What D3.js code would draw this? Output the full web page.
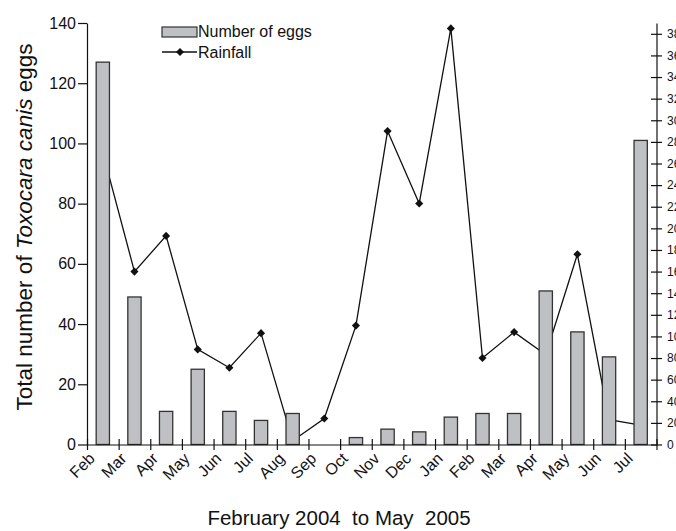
<!DOCTYPE html>
<html lang="en">
<head>
<meta charset="UTF-8">
<script src="https://d3js.org/d3.v7.min.js"></script>
<style>
  body { margin: 0; background: #fff; }
  #plot { position: absolute; left: 0; top: 0; width: 676px; height: 531px; overflow: hidden; }
  text { font-family: "Liberation Sans", Arial, sans-serif; fill: #111; }
</style>
</head>
<body>
<div id="plot"></div>
<script>
// months along the x axis (Feb 2004 .. Jul 2005 as labelled)
const months = ["Feb", "Mar", "Apr", "May", "Jun", "Jul", "Aug", "Sep", "Oct", "Nov", "Dec",
                "Jan", "Feb", "Mar", "Apr", "May", "Jun", "Jul"];
// total number of Toxocara canis eggs (left axis)
const eggs = [127, 49, 11, 25, 11, 8, 10.3, 0, 2.3, 5.1, 4.2, 9.1, 10.3, 10.3, 51, 37.4, 29.1, 101];
// rainfall (right axis)
const rainfall = [270, 160, 193, 88, 71, 103, 3.5, 24, 110, 290, 223, 385, 80, 104, 83, 176, 23, 18];
const leftTicks = d3.range(0, 141, 20);
const rightTicks = d3.range(0, 381, 20);

function drawChart() {
  const width = 676, height = 531;
  const svg = d3.select("#plot").append("svg")
      .attr("width", width)
      .attr("height", height);

  // plot area
  const x0 = 87, x1 = 656.5, yBottom = 444.5, yTop = 23;

  // scales
  const x = d3.scaleBand()
      .domain(d3.range(months.length))
      .range([x0, x1])
      .padding(0);
  const xEdge = d3.scaleLinear().domain([0, months.length]).range([x0, x1]);
  const y = d3.scaleLinear().domain([0, 140]).range([yBottom, yTop]);
  const yR = d3.scaleLinear().domain([0, 390]).range([yBottom, yTop]);
  const mid = i => x(i) + x.bandwidth() / 2;

  // rainfall line (drawn first, bars cover it)
  const line = d3.line()
      .x((d, i) => mid(i))
      .y(d => yR(d));
  svg.append("path")
      .datum(rainfall)
      .attr("fill", "none")
      .attr("stroke", "#111")
      .attr("stroke-width", 1.3)
      .attr("d", line);

  const diamond = d3.symbol().type(d3.symbolDiamond2).size(42);
  svg.append("g").selectAll("path")
      .data(rainfall)
      .join("path")
      .attr("d", diamond)
      .attr("fill", "#111")
      .attr("transform", (d, i) => `translate(${mid(i)},${yR(d)})`);

  // egg bars
  const barW = x.bandwidth() * 0.42;
  const eggRows = eggs.map((v, i) => ({i, v})).filter(d => d.v > 0);
  svg.append("g").selectAll("rect")
      .data(eggRows)
      .join("rect")
      .attr("x", d => mid(d.i) - barW / 2)
      .attr("y", d => y(d.v))
      .attr("width", barW)
      .attr("height", d => yBottom - y(d.v))
      .attr("fill", "#bfc0c4")
      .attr("stroke", "#333")
      .attr("stroke-width", 1.3);

  // left axis
  svg.append("g")
      .attr("transform", `translate(${x0},0)`)
      .call(d3.axisLeft(y).tickValues(leftTicks).tickSize(9).tickSizeOuter(0).tickPadding(2))
      .call(g => g.selectAll("text").style("font-size", "16px").attr("fill", "#111"))
      .call(g => g.selectAll("line, path").attr("stroke", "#111").attr("stroke-width", 1.2));

  // right axis (labels run off the page edge, as in the source figure)
  svg.append("g")
      .attr("transform", `translate(${x1},0)`)
      .call(d3.axisRight(yR).tickValues(rightTicks).tickSize(5.5).tickSizeOuter(0).tickPadding(5))
      .call(g => g.selectAll(".tick line").attr("x1", -5.5).attr("x2", 5.5))
      .call(g => g.selectAll("text").style("font-size", "12px").attr("fill", "#111"))
      .call(g => g.selectAll("line, path").attr("stroke", "#111").attr("stroke-width", 1.2));

  // bottom axis, ticks between months
  svg.append("g")
      .attr("transform", `translate(0,${yBottom})`)
      .call(d3.axisBottom(xEdge).tickValues(d3.range(months.length + 1)).tickFormat("").tickSize(5.5).tickSizeOuter(0))
      .call(g => g.selectAll(".tick line").attr("y1", -5.5).attr("y2", 5.5))
      .call(g => g.selectAll("line, path").attr("stroke", "#111").attr("stroke-width", 1.2));

  // month labels
  svg.append("g").selectAll("text")
      .data(months)
      .join("text")
      .attr("text-anchor", "end")
      .style("font-size", "16px")
      .attr("transform", (d, i) => `translate(${mid(i) - 7},${yBottom + 15}) rotate(-45)`)
      .text(d => d);

  // axis titles
  const yt = svg.append("text")
      .attr("text-anchor", "middle")
      .attr("transform", `translate(32,227) rotate(-90)`)
      .style("font-size", "22.5px");
  yt.append("tspan").text("Total number of ");
  yt.append("tspan").style("font-style", "italic").text("Toxocara canis");
  yt.append("tspan").text(" eggs");

  svg.append("text")
      .attr("x", 339)
      .attr("y", 525)
      .attr("text-anchor", "middle")
      .style("font-size", "20.5px")
      .style("white-space", "pre")
      .text("February 2004  to May  2005");

  // legend
  const lg = svg.append("g");
  lg.append("rect")
      .attr("x", 162).attr("y", 27).attr("width", 35).attr("height", 10)
      .attr("fill", "#bfc0c4").attr("stroke", "#333").attr("stroke-width", 1.2);
  lg.append("text").attr("x", 198).attr("y", 37).style("font-size", "16px").text("Number of eggs");
  lg.append("line")
      .attr("x1", 162).attr("x2", 197).attr("y1", 52).attr("y2", 52)
      .attr("stroke", "#111").attr("stroke-width", 1.3);
  lg.append("path").attr("d", diamond).attr("fill", "#111")
      .attr("transform", "translate(180,52)");
  lg.append("text").attr("x", 198).attr("y", 57.5).style("font-size", "16px").text("Rainfall");
}

window.onload = drawChart;
</script>
</body>
</html>
